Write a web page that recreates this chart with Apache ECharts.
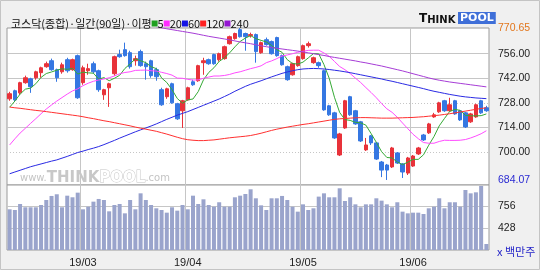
<!DOCTYPE html>
<html><head><meta charset="utf-8">
<script src="https://cdn.jsdelivr.net/npm/echarts@6/dist/echarts.min.js"></script>
<style>html,body{margin:0;padding:0;background:#f0f0f0}#c{width:540px;height:270px}</style>
</head><body><div id="c"></div>
<script>
const dates = [
'19/02/11','19/02/12','19/02/13','19/02/14','19/02/15','19/02/18','19/02/19','19/02/20','19/02/21','19/02/22','19/02/25','19/02/26','19/02/27','19/02/28',
'19/03/04','19/03/05','19/03/06','19/03/07','19/03/08','19/03/11','19/03/12','19/03/13','19/03/14','19/03/15','19/03/18','19/03/19','19/03/20','19/03/21','19/03/22','19/03/25','19/03/26','19/03/27','19/03/28','19/03/29',
'19/04/01','19/04/02','19/04/03','19/04/04','19/04/05','19/04/08','19/04/09','19/04/10','19/04/11','19/04/12','19/04/15','19/04/16','19/04/17','19/04/18','19/04/19','19/04/22','19/04/23','19/04/24','19/04/25','19/04/26','19/04/29','19/04/30',
'19/05/02','19/05/03','19/05/07','19/05/08','19/05/09','19/05/10','19/05/13','19/05/14','19/05/15','19/05/16','19/05/17','19/05/20','19/05/21','19/05/22','19/05/23','19/05/24','19/05/27','19/05/28','19/05/29','19/05/30','19/05/31',
'19/06/03','19/06/04','19/06/05','19/06/07','19/06/10','19/06/11','19/06/12','19/06/13','19/06/14','19/06/17','19/06/18','19/06/19','19/06/20','19/06/21','19/06/24'];

const opens = [730.3,734.9,733.7,739.5,741.7,742.3,745.2,748.6,752.0,746.9,
745.7,752.6,746.9,754.9,739.5,746.3,750.3,746.3,732.6,736.6,
744.6,755.5,758.3,756.6,752.0,757.2,750.3,752.0,746.9,735.5,
731.5,738.9,727.5,723.5,729.7,740.0,740.6,750.9,752.6,755.5,
752.6,753.2,761.7,764.6,769.7,767.5,766.3,766.9,756.6,764.0,
762.9,765.2,754.9,748.6,744.0,749.2,753.2,760.6,750.9,750.9,
746.3,726.3,722.3,698.3,713.7,731.5,723.5,717.2,701.2,709.2,
705.2,694.3,692.6,691.5,699.5,693.2,688.0,692.0,698.9,709.7,
710.9,720.0,722.9,729.2,723.5,729.2,723.5,722.3,717.2,720.0,
729.2,725.2];
const closes = [733.2,729.7,739.5,742.3,737.2,745.7,748.0,750.3,746.9,742.3,
749.7,746.3,752.6,730.9,748.0,747.5,745.7,735.5,735.5,738.9,
754.3,754.3,754.9,748.6,753.2,749.2,748.6,743.5,742.9,726.9,
736.0,728.0,718.9,729.2,736.6,738.3,749.2,752.0,750.3,750.3,
756.0,760.0,765.7,767.5,765.7,765.7,766.9,757.2,762.3,761.2,
756.0,754.9,749.7,741.2,750.3,754.3,760.6,761.7,753.7,749.2,
724.0,721.2,708.0,710.3,729.2,721.2,716.0,706.3,704.0,705.2,
696.0,689.7,689.7,702.3,693.7,688.6,696.6,697.7,702.3,706.9,
716.0,721.2,728.0,723.5,726.9,721.7,718.3,714.3,721.7,726.9,
722.3,723.5];
const lows = [729.2,728.6,732.6,738.9,733.7,741.2,742.3,748.0,746.3,740.0,
744.6,745.2,746.3,730.3,738.3,744.0,744.6,734.3,729.7,725.7,
743.5,753.7,754.3,747.5,749.2,748.6,741.2,742.3,740.6,726.3,
730.3,727.5,718.3,713.7,729.2,737.7,740.0,744.0,749.7,749.7,
751.5,752.6,761.2,764.0,765.2,757.7,765.2,750.9,756.0,760.6,
755.5,754.3,749.2,740.6,743.5,748.6,752.6,759.5,750.3,748.0,
723.5,720.6,707.5,697.7,713.2,720.6,715.5,705.7,700.6,704.0,
695.5,685.7,684.07,690.9,693.2,685.2,686.9,691.5,698.3,706.3,
710.3,719.5,722.3,722.9,722.9,721.2,717.7,713.7,716.6,719.5,
721.7,722.9];
const highs = [734.3,735.5,740.0,743.5,742.3,746.3,748.6,751.5,753.2,747.5,
750.9,753.7,753.2,755.5,749.2,750.3,751.5,746.9,736.0,739.5,
754.9,758.3,762.3,757.7,754.9,758.3,751.5,752.6,748.0,736.6,
736.6,739.5,728.0,729.7,737.2,741.2,749.7,753.7,753.2,756.0,
756.6,760.6,766.3,768.0,770.65,768.0,768.0,767.5,762.9,765.2,
763.5,765.7,755.5,749.2,750.9,754.9,761.2,762.9,754.3,751.5,
746.9,726.9,722.9,710.9,729.7,732.0,724.0,717.7,708.0,709.7,
705.7,694.9,693.2,702.9,700.0,693.7,697.2,698.3,702.9,710.3,
716.6,722.3,728.6,729.7,730.9,729.7,724.0,722.9,722.3,727.5,
729.7,726.3];
const volumes = [706,696,785,736,736,736,770,845,905,930,
736,909,885,954,706,745,820,860,845,676,
770,785,646,845,706,944,845,770,721,696,
656,736,686,770,706,909,785,855,770,745,
811,745,745,885,909,934,1004,870,765,696,
870,870,905,845,745,671,780,696,721,895,
944,885,885,1019,830,885,780,736,780,780,
870,835,780,736,811,671,646,656,656,636,
721,745,870,721,811,811,745,994,944,959,
1054,189];
const ma5 = [725.5,729.0,733.0,735.8,736.4,738.9,742.5,744.7,745.6,746.6,
747.4,747.1,747.6,744.4,745.5,745.1,744.9,741.5,742.4,740.6,
742.0,743.7,747.6,750.2,753.1,752.0,750.9,748.6,747.5,742.2,
739.6,735.5,730.5,727.8,729.7,730.2,734.4,741.1,745.3,748.0,
751.6,753.7,756.5,759.9,763.0,764.9,766.3,764.6,763.6,762.7,
760.7,758.3,756.8,752.6,750.4,750.1,751.2,753.6,756.1,755.9,
749.8,742.0,731.2,722.5,718.5,718.0,716.9,716.6,715.3,710.5,
705.5,700.2,696.9,696.6,694.3,692.8,694.2,695.8,695.8,698.4,
703.9,708.8,714.9,719.1,723.1,724.3,723.7,720.9,720.6,720.6,
720.7,721.7];
const ma20 = [704.0,707.5,710.8,713.5,716.3,719.0,721.8,724.5,726.8,729.0,
731.0,733.0,734.8,736.0,737.8,739.2,740.3,741.0,741.6,742.3,
743.3,744.6,745.3,745.7,746.5,746.6,746.7,746.3,746.1,745.4,
744.7,743.8,742.1,742.0,741.4,741.0,741.1,742.0,742.7,743.3,
743.3,743.6,744.2,745.1,745.7,746.6,747.5,748.2,749.1,750.9,
751.9,753.2,754.7,755.3,756.0,756.8,757.4,757.9,758.0,758.0,
756.4,754.5,751.6,748.7,746.9,744.7,742.1,739.6,736.7,733.9,
730.9,727.6,724.6,722.6,719.8,716.5,713.3,710.1,707.6,705.4,
705.0,705.0,706.0,706.7,706.6,706.6,706.7,707.1,708.0,709.1,
710.4,712.1];
const ma60 = [687.6,688.6,689.6,690.6,691.6,692.4,693.2,694.0,694.8,695.5,
696.5,697.5,698.6,699.7,700.5,701.4,702.2,703.1,704.2,705.4,
706.6,707.9,709.1,710.3,711.5,712.6,713.7,714.8,716.0,717.3,
718.6,719.8,721.0,722.0,723.0,724.2,725.4,726.6,727.8,729.0,
730.2,731.6,733.0,734.6,736.0,737.4,738.6,739.6,740.6,741.7,
742.8,743.8,744.8,745.6,746.3,746.9,747.3,747.5,747.6,747.5,
747.3,747.0,746.6,746.2,745.7,745.2,744.6,744.0,743.4,742.8,
742.2,741.6,740.9,740.3,739.6,738.9,738.2,737.5,736.8,736.1,
735.3,734.6,734.0,733.4,732.8,732.3,731.8,731.4,731.1,730.8,
730.6,730.4];
const ma120 = [725.6,725.2,724.9,724.5,724.1,723.7,723.4,723.0,722.6,722.2,
721.8,721.4,721.0,720.6,720.1,719.5,719.0,718.4,717.8,717.3,
716.7,716.1,715.5,714.9,714.2,713.6,713.0,712.4,711.8,711.0,
710.2,709.3,708.4,707.6,707.0,706.7,706.5,706.5,706.7,706.9,
707.3,707.7,708.1,708.4,708.7,709.0,709.4,710.0,710.7,711.5,
712.3,713.0,713.6,714.2,714.7,715.2,715.7,716.1,716.6,717.1,
717.6,718.1,718.6,718.9,719.1,719.3,719.5,719.6,719.6,719.5,
719.4,719.3,719.3,719.3,719.4,719.5,719.6,719.7,719.9,720.1,
720.4,720.7,721.0,721.4,721.8,722.3,722.8,723.3,723.8,724.3,
724.8,725.2];
const ma240 = [null,null,null,null,null,null,null,null,null,null,
null,null,null,null,null,null,null,null,null,null,
null,null,null,null,null,null,null,null,771.3,770.8,
770.2,769.7,769.2,768.7,768.2,767.7,767.1,766.5,765.9,765.4,
764.9,764.4,763.9,763.3,762.7,762.2,761.7,761.1,760.5,760.0,
759.5,759.1,758.7,758.3,757.9,757.5,757.0,756.5,756.0,755.5,
755.0,754.4,753.9,753.4,752.9,752.4,751.9,751.3,750.8,750.2,
749.6,749.0,748.3,747.6,746.9,746.2,745.4,744.6,743.8,743.0,
742.2,741.5,740.9,740.4,739.9,739.5,739.1,738.7,738.3,737.9,
737.5,737.1];
const priceTicks = [700, 714, 728, 742, 756];
const dottedTicks = [700, 728];
const priceMin = 684.07, priceMax = 770.65;
const volumeTicks = [428, 756];

const chart = echarts.init(document.getElementById('c'));
const monthStarts = [];
for (let i = 1; i < dates.length; i++) if (dates[i].slice(3,5) !== dates[i-1].slice(3,5)) monthStarts.push(i);
const isMonthStart = i => monthStarts.indexOf(i) >= 0;
const candles = opens.map((o, i) => [o, closes[i], lows[i], highs[i]]);
const GRID = '#c6c6c6';
const NUMF = 'Liberation Sans';
const maLine = (name, data, color) => ({
  name, type: 'line', data, xAxisIndex: 0, yAxisIndex: 0, symbol: 'none', smooth: false,
  lineStyle: {width: 1, color}, itemStyle: {color}, z: 3, silent: true
});
const sq = c => ({width: 6, height: 6, backgroundColor: c, verticalAlign: 'middle'});

chart.setOption({
  animation: false,
  backgroundColor: '#f0f0f0',
  textStyle: {fontFamily: NUMF},
  title: {
    text: '코스닥(종합)·일간(90일)·이평{g| }5{m| }20{b| }60{r| }120{p| }240',
    left: 6, top: 13,
    textStyle: {fontFamily: 'Noto Sans CJK KR', fontSize: 11, fontWeight: 'normal', color: '#111',
      rich: {g: sq('#1fa01f'), m: sq('#ff2cff'), b: sq('#1414e6'), r: sq('#ff2020'), p: sq('#9416d2')}}
  },
  grid: [
    {left: 7, right: 51, top: 28, height: 157, show: true, backgroundColor: '#fff', borderColor: '#9a9a9a', borderWidth: 1},
    {left: 7, right: 51, top: 185, height: 65, show: true, backgroundColor: '#fff', borderColor: '#9a9a9a', borderWidth: 1}
  ],
  xAxis: [
    {type: 'category', gridIndex: 0, data: dates, boundaryGap: true,
     axisLine: {show: false}, axisTick: {show: false}, axisLabel: {show: false},
     splitLine: {show: true, interval: (i) => isMonthStart(i), lineStyle: {color: GRID, width: 1}}},
    {type: 'category', gridIndex: 1, data: dates, boundaryGap: true,
     axisLine: {show: false}, axisTick: {show: false},
     axisLabel: {show: true, interval: (i) => isMonthStart(i), formatter: v => v.slice(0,5), fontSize: 11, color: '#222', margin: 7, fontFamily: NUMF},
     splitLine: {show: true, interval: (i) => isMonthStart(i), lineStyle: {color: GRID, width: 1}}}
  ],
  yAxis: [
    {type: 'value', gridIndex: 0, position: 'right', min: 681.2, max: priceMax, scale: true,
     splitLine: {show: false}, axisLine: {show: false}, axisTick: {show: false},
     axisLabel: {customValues: [priceMin].concat(priceTicks, [priceMax]), margin: 9, fontSize: 10.5, color: '#222', fontFamily: NUMF,
       formatter: v => Math.abs(v - priceMax) < 0.01 ? '{mx|' + priceMax.toFixed(2) + '}' : (Math.abs(v - priceMin) < 0.01 ? '{mn|' + priceMin.toFixed(2) + '}' : v.toFixed(2)),
       rich: {mx: {color: '#e2761c', fontSize: 10.5, fontFamily: NUMF}, mn: {color: '#2a2ad2', fontSize: 10.5, fontFamily: NUMF}}}},
    {type: 'value', gridIndex: 1, position: 'right', min: 100, max: 1068,
     splitLine: {show: false}, axisLine: {show: false}, axisTick: {show: false},
     axisLabel: {customValues: volumeTicks, margin: 9, fontSize: 10.5, color: '#222', fontFamily: NUMF, formatter: v => String(v)}}
  ],
  series: [
    {name: 'price', type: 'candlestick', data: candles, xAxisIndex: 0, yAxisIndex: 0, barWidth: 4, z: 2,
     itemStyle: {color: '#e8323a', color0: '#3577e2', borderColor: '#e8323a', borderColor0: '#3577e2', borderWidth: 1},
     markLine: {silent: true, symbol: 'none', z: 1, label: {show: false}, animation: false,
       data: priceTicks.map(v => ({yAxis: v, lineStyle: {color: GRID, width: 1, type: dottedTicks.indexOf(v) >= 0 ? [1, 2] : 'solid'}}))}},
    maLine('5', ma5, '#35aa35'),
    maLine('20', ma20, '#ff4cff'),
    maLine('60', ma60, '#2a2ae4'),
    maLine('120', ma120, '#ff3030'),
    maLine('240', ma240, '#a63cd6'),
    {name: 'volume', type: 'bar', data: volumes, xAxisIndex: 1, yAxisIndex: 1, barWidth: 4, z: 2,
     itemStyle: {color: '#9aa4cc'},
     markLine: {silent: true, symbol: 'none', z: 1, label: {show: false}, animation: false,
       data: volumeTicks.map(v => ({yAxis: v, lineStyle: {color: GRID, width: 1, type: 'solid'}}))}}
  ],
  graphic: [
    {type: 'rect', shape: {x: 0.5, y: 0.5, width: 539, height: 269}, style: {fill: 'none', stroke: '#c4c4c4'}, z: 10, silent: true},
    {type: 'text', left: 419, top: 13, z: 10, style: {text: '{a|T}{b|HINK}', rich: {a: {font: 'bold 12px "DejaVu Sans"', fill: '#111'}, b: {font: 'bold 10px "DejaVu Sans"', fill: '#111', verticalAlign: 'bottom'}}}},
    {type: 'text', left: 458, top: 12, z: 10, style: {text: 'POOL', font: 'bold 11px "DejaVu Sans"', fill: '#fff', backgroundColor: '#3f6fd8', padding: [1, 2, 0, 2]}},
    {type: 'text', left: 20, top: 170, z: 1, silent: true, style: {text: '{s|www.}{t|THINK}{u|POOL}{s|.com}',
      rich: {s: {font: '10px "DejaVu Sans"', fill: '#c4c4c4'}, t: {font: 'bold 15px "DejaVu Sans"', fill: '#c8c8c8'}, u: {font: 'bold 15px "DejaVu Sans"', fill: '#fff', stroke: '#c4c4c4', lineWidth: 1}}}},
    {type: 'text', left: 497, top: 246, z: 10, style: {text: 'x 백만주', font: '11px "Noto Sans CJK KR"', fill: '#2424c8'}}
  ]
});
</script></body></html>
